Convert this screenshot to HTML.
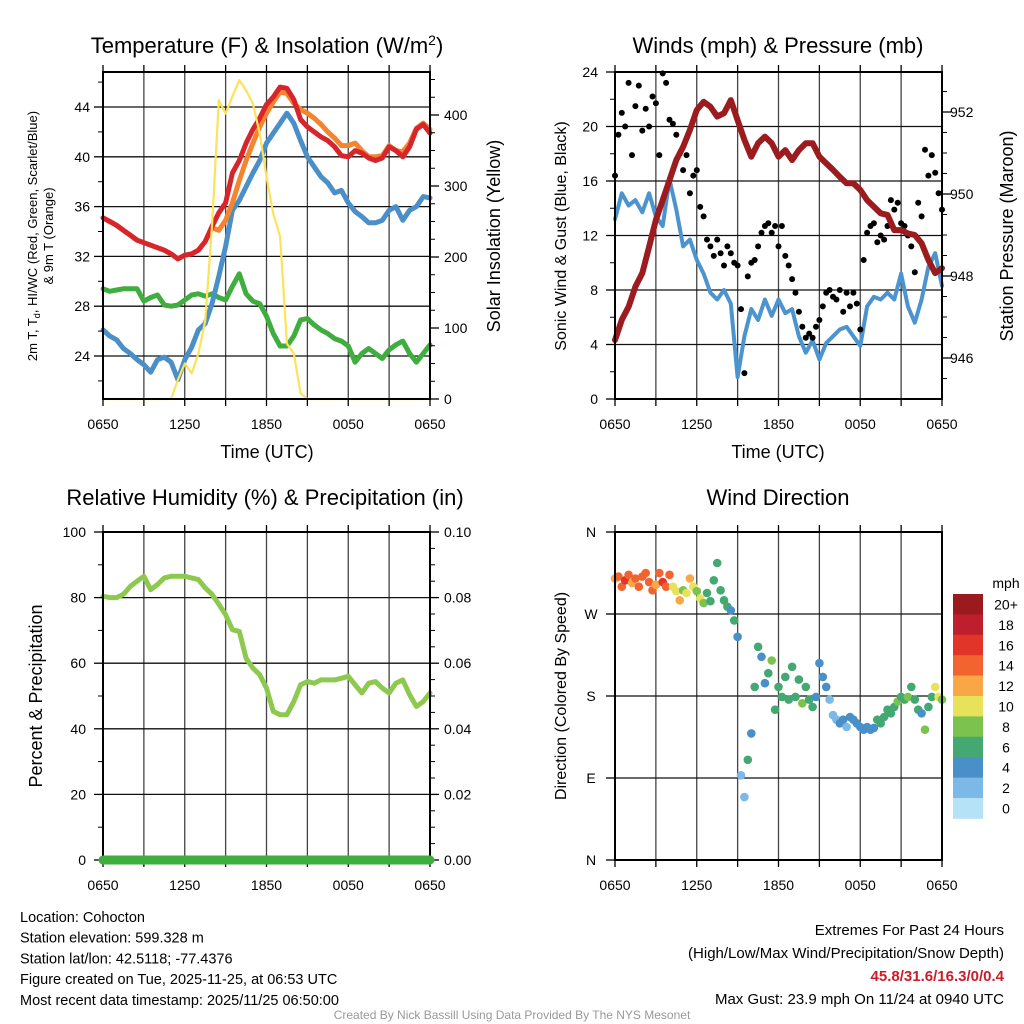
<!DOCTYPE html>
<html><head><meta charset="utf-8"><style>
html,body{margin:0;padding:0;background:#fff;}
svg{display:block;font-family:"Liberation Sans",sans-serif;}
</style></head><body>
<svg id="c" width="1024" height="1024" viewBox="0 0 1024 1024" xmlns="http://www.w3.org/2000/svg"></svg>
<script>
// ---------- DATA (half-hourly, 0650 -> 0650 UTC) ----------
const timeLabels = ["0650","1250","1850","0050","0650"];
const tempTicks = [24,28,32,36,40,44];
const solarTicks = [0,100,200,300,400];
const windTicks = [0,4,8,12,16,20,24];
const presTicks = [946,948,950,952];
const rhTicks = [0,20,40,60,80,100];
const precipTicks = ["0.00","0.02","0.04","0.06","0.08","0.10"];
const dirLabels = ["N","W","S","E","N"];
const speedBins = ["0","2","4","6","8","10","12","14","16","18","20+"];

const tempRed = [35.1,34.8,34.5,34.1,33.7,33.3,33.1,32.9,32.7,32.5,32.2,31.8,32.1,32.2,32.5,33.2,34.4,35.5,36.3,38.7,39.7,41.1,42.2,43.1,44.2,44.8,45.6,45.5,44.6,43.0,42.4,42.0,41.6,41.3,40.8,40.1,40.0,40.5,40.3,39.9,39.7,39.9,40.8,40.5,40.0,40.8,42.2,42.6,41.9];
const temp9m = [35.1,34.8,34.5,34.1,33.7,33.3,33.1,32.9,32.7,32.5,32.2,31.8,32.1,32.2,32.5,33.2,34.3,34.1,34.9,36.3,38.1,39.7,41.1,42.4,43.5,44.4,45.2,45.1,44.3,43.8,43.5,43.1,42.6,42.0,41.5,40.9,40.9,41.1,40.5,40.0,40.0,40.1,40.9,40.5,40.4,41.1,42.3,42.7,42.2];
const tempBlue = [26.1,25.6,25.3,24.6,24.2,23.7,23.3,22.7,23.7,23.9,23.5,22.1,23.7,24.7,26.1,26.6,28.2,30.4,32.8,35.7,36.5,37.6,38.7,39.7,41.1,41.9,42.7,43.5,42.7,41.3,40.0,39.2,38.4,37.9,37.1,37.3,36.3,35.6,35.2,34.7,34.7,34.9,35.7,36.0,34.9,35.7,36.0,36.8,36.7];
const tempGreen = [29.4,29.2,29.3,29.4,29.4,29.4,28.4,28.7,28.9,28.1,28.0,28.1,28.5,28.9,29.0,28.8,29.0,28.7,28.5,29.6,30.6,29.0,28.4,28.2,27.2,25.8,24.8,24.8,25.6,26.9,27.0,26.5,26.1,25.8,25.4,25.2,24.8,23.5,24.2,24.6,24.2,23.8,24.5,24.9,25.2,24.2,23.5,24.2,24.9];
const solar = [0,0,0,0,0,0,0,0,0,0,0,27,50,36,64,110,243,421,402,426,449,435,416,374,313,261,229,78,64,8,0,0,0,0,0,0,0,0,0,0,0,0,0,0,0,0,0,0,0];

const windSpeed = [13.2,15.1,14.2,14.6,13.7,15.1,13.4,12.7,16.1,13.9,11.2,11.7,10.2,9.2,7.8,7.3,8.0,7.0,1.6,4.6,6.6,5.8,7.3,6.1,7.3,6.3,6.6,4.6,3.4,4.3,2.9,4.1,4.6,5.1,5.3,4.6,3.9,6.8,7.5,7.3,7.8,7.3,9.2,6.8,5.6,7.3,9.7,10.7,8.3];
const pressure = [946.44,946.93,947.25,947.74,948.07,948.71,949.37,949.85,950.34,950.83,951.15,951.56,952.05,952.25,952.13,951.89,951.97,952.29,951.8,951.32,950.91,951.24,951.4,951.24,950.91,951.07,950.83,951.07,951.24,951.24,950.91,950.75,950.59,950.42,950.26,950.26,950.1,949.85,949.69,949.53,949.49,949.12,949.12,949.04,949.0,948.8,948.39,948.07,948.19];
// gusts, quarter-hourly
const gust = [16.4,19.4,21.0,20.0,23.2,17.9,21.5,23.0,19.7,21.3,20.0,22.2,21.7,17.9,23.9,23.2,20.5,20.2,19.4,18.0,16.8,17.9,15.1,16.4,16.8,14.1,13.4,11.7,11.2,10.5,11.7,10.7,9.8,11.2,10.7,10.0,9.8,6.6,1.9,9.0,10.0,10.2,11.2,12.2,12.7,12.9,12.2,12.7,11.2,12.7,10.5,9.8,8.8,7.8,6.4,5.3,4.5,4.8,4.5,5.3,5.8,6.8,7.8,8.0,7.5,7.3,8.0,6.4,7.8,6.8,7.8,7.0,5.1,10.2,12.2,12.7,12.9,11.5,12.0,11.7,12.7,14.6,13.9,14.4,12.9,12.7,12.0,11.2,9.3,14.4,13.4,18.3,16.4,17.9,16.6,15.1,13.9];

const rh = [80.4,80,80,81,83.4,85,86.5,82.4,84,86,86.5,86.5,86.5,86,85.5,83,81,78,74.8,70.2,69.7,61.5,58.5,56.5,52.4,45.3,44.3,44.3,48.3,53.4,54.4,53.9,54.9,54.9,54.9,55.4,56,53.4,50.9,53.9,54.4,52.4,50.9,53.9,54.9,50.4,46.8,48.3,50.9];
const precip = [0,0,0,0,0,0,0,0,0,0,0,0,0,0,0,0,0,0,0,0,0,0,0,0,0,0,0,0,0,0,0,0,0,0,0,0,0,0,0,0,0,0,0,0,0,0,0,0,0];

// wind direction (deg) and speed (mph), quarter-hourly
const windDir = [309,311,300,307,313,304,309,300,311,315,305,296,302,315,305,300,313,300,295,285,296,293,309,300,295,287,282,293,284,307,326,296,285,278,274,263,245,93,69,110,139,190,234,223,194,205,219,165,190,179,201,176,212,179,198,172,190,176,168,179,216,201,190,176,159,154,150,154,146,157,154,150,146,143,146,143,145,154,150,157,165,161,168,174,179,176,179,190,176,165,161,143,168,179,190,179,176];
const windDirSpeed = [13,14,15,16,14,13,15,14,15,14,14,15,13,14,17,15,14,10,10,12,9,10,12,11,9,10,8,7,7,6,7,6,6,6,4,7,4,3,2,6,4,6,7,4,4,7,8,6,7,6,6,6,6,6,6,8,6,6,6,4,4,4,4,3,3,3,4,4,3,4,4,4,4,4,4,4,4,6,7,6,7,6,7,8,6,7,8,7,6,7,4,8,6,7,10,10,8];

// ---------- DRAWING ----------
const NS="http://www.w3.org/2000/svg";
const svg=document.getElementById('c');
const binColors=["#b6e2f8","#7db9e6","#4990c8","#44a872","#7cc24e","#e8e25a","#f9a646","#f26330","#e03528","#bf1e2d","#9b1a1e"];
function mk(tag,attrs,parent,txt){const e=document.createElementNS(NS,tag);for(const k in attrs)e.setAttribute(k,attrs[k]);if(txt!==undefined)e.textContent=txt;(parent||svg).appendChild(e);return e;}
function txt(x,y,s,size,anchor,parent,extra){const a=Object.assign({x:x,y:y,'font-size':size,'text-anchor':anchor||'middle',fill:'#000'},extra||{});return mk('text',a,parent,s);}

function panel(name,b){
  const g=mk('g',{});
  
  
  return g;
}
function frame(g,b,hTicksY,minorY,rightMajor,rightMinor){
  // vertical grid every 3h
  for(let k=1;k<8;k++){const x=b.x0+k*(b.x1-b.x0)/8;mk('line',{x1:x,x2:x,y1:b.y0,y2:b.y1,stroke:'#444','stroke-width':1.3},g);}
  hTicksY.forEach(y=>{if(y>b.y0+1&&y<b.y1-1)mk('line',{x1:b.x0,x2:b.x1,y1:y,y2:y,stroke:'#111','stroke-width':1.3},g);});
}
function border(g,b,hTicksY,minorY,rTicksY,rMinorY){
  mk('rect',{x:b.x0,y:b.y0,width:b.x1-b.x0,height:b.y1-b.y0,fill:'none',stroke:'#000','stroke-width':2},g);
  for(let k=0;k<=8;k++){const x=b.x0+k*(b.x1-b.x0)/8;mk('line',{x1:x,x2:x,y1:b.y1,y2:b.y1+7,stroke:'#000','stroke-width':1.3},g);mk('line',{x1:x,x2:x,y1:b.y0,y2:b.y0-7,stroke:'#000','stroke-width':1.3},g);}
  hTicksY.forEach(y=>mk('line',{x1:b.x0-9,x2:b.x0,y1:y,y2:y,stroke:'#000','stroke-width':1.3},g));
  (minorY||[]).forEach(y=>mk('line',{x1:b.x0-5,x2:b.x0,y1:y,y2:y,stroke:'#000','stroke-width':1},g));
  (rTicksY||[]).forEach(y=>mk('line',{x1:b.x1,x2:b.x1+9,y1:y,y2:y,stroke:'#000','stroke-width':1.3},g));
  (rMinorY||[]).forEach(y=>mk('line',{x1:b.x1,x2:b.x1+5,y1:y,y2:y,stroke:'#000','stroke-width':1},g));
  timeLabels.forEach((s,k)=>{const t=txt(b.x0+k*(b.x1-b.x0)/4,b.y1+30,s,14,'middle',g);});
}
function xs(b,i,n){return b.x0+i/(n-1)*(b.x1-b.x0);}
function linePath(g,b,arr,yf,color,w,name){
  const d=arr.map((v,i)=>(i?'L':'M')+xs(b,i,arr.length).toFixed(1)+' '+yf(v).toFixed(1)).join(' ');
  const p=mk('path',{d:d,fill:'none',stroke:color,'stroke-width':w,'stroke-linejoin':'round','stroke-linecap':'round'},g);
  
  
  return p;
}
function range(a,b,s){const r=[];for(let v=a;v<=b+1e-9;v+=s)r.push(v);return r;}

// Panel 1
{
const b={x0:103,x1:430,y0:72,y1:399};
const g=panel('temperature-panel',b);
const yT=v=>107+(44-v)*12.45;
const yS=v=>399-v*0.71;
frame(g,b,tempTicks.map(yT));
linePath(g,b,tempGreen,yT,'#3fae3f',5,'dewpoint-line');
linePath(g,b,tempBlue,yT,'#4a8fc8',5,'windchill-line');
linePath(g,b,temp9m,yT,'#f5842f',5,'temp-9m-line');
linePath(g,b,tempRed,yT,'#d7262b',5,'temp-2m-line');
linePath(g,b,solar,yS,'#fde25a',2.2,'solar-line');
border(g,b,tempTicks.map(yT),range(22,46,4).map(yT).filter(y=>y>b.y0&&y<b.y1),solarTicks.map(yS),range(50,450,50).filter(v=>v%100).map(yS).concat(range(25,475,25).filter(v=>v%50).map(yS)).filter(y=>y>b.y0));
tempTicks.forEach(v=>txt(90,yT(v)+5,String(v),14,'end',g));
solarTicks.forEach(v=>txt(444,yS(v)+5,String(v),14,'start',g));
const t=txt(267,53,'',22,'middle',g);
t.innerHTML='Temperature (F) &amp; Insolation (W/m<tspan dy="-8" font-size="14">2</tspan><tspan dy="8">)</tspan>';
const yl=mk('text',{transform:'translate(40,236) rotate(-90)','font-size':13,'text-anchor':'middle'},g);

yl.innerHTML='<tspan x="0" dy="-3">2m T, T<tspan font-size="9" dy="3">d</tspan><tspan dy="-3">, HI/WC (Red, Green, Scarlet/Blue)</tspan></tspan><tspan x="0" dy="16">&amp; 9m T (Orange)</tspan>';
const yr=txt(0,0,'Solar Insolation (Yellow)',18,'middle',g,{transform:'translate(500,236) rotate(-90)'});
const xt=txt(267,458,'Time (UTC)',18,'middle',g);
}
// Panel 2
{
const b={x0:615,x1:942,y0:72,y1:399};
const g=panel('winds-panel',b);
const yW=v=>399-v*13.625;
const yP=v=>358-(v-946)*41;
frame(g,b,windTicks.map(yW));
linePath(g,b,windSpeed,yW,'#4b94d0',4,'sonic-wind-line');
gust.forEach((v,i)=>{const c=mk('circle',{cx:xs(b,i,gust.length).toFixed(1),cy:yW(v).toFixed(1),r:3,fill:'#000'},g);
 
 });
linePath(g,b,pressure,yP,'#9b1b1f',6,'pressure-line');
border(g,b,windTicks.map(yW),range(2,22,4).map(yW),presTicks.map(yP),range(945.5,953,0.5).filter(v=>v%2).map(yP).filter(y=>y>b.y0&&y<b.y1));
windTicks.forEach(v=>txt(598,yW(v)+5,String(v),14,'end',g));
presTicks.forEach(v=>txt(950,yP(v)+5,String(v),14,'start',g));
const t=txt(778,53,'Winds (mph) & Pressure (mb)',22,'middle',g);
const yl=txt(0,0,'Sonic Wind & Gust (Blue, Black)',16,'middle',g,{transform:'translate(566,236) rotate(-90)'});
const yr=txt(0,0,'Station Pressure (Maroon)',18,'middle',g,{transform:'translate(1013,236) rotate(-90)'});
const xt=txt(778,458,'Time (UTC)',18,'middle',g);
}
// Panel 3
{
const b={x0:103,x1:430,y0:532,y1:860};
const g=panel('humidity-panel',b);
const yR=v=>860-v*3.28;
const yPr=v=>860-v*3280;
frame(g,b,rhTicks.map(yR));
linePath(g,b,rh,yR,'#8dc94e',5,'rh-line');
border(g,b,rhTicks.map(yR),range(10,90,20).map(yR),rhTicks.map(yR),range(5,95,5).filter(v=>v%20).map(yR));
linePath(g,b,precip,yPr,'#3fae3f',9,'precip-line');
rhTicks.forEach(v=>txt(86,yR(v)+5,String(v),14,'end',g));
precipTicks.forEach((s,k)=>txt(444,yR(k*20)+5,s,14,'start',g));
const t=txt(265,505,'Relative Humidity (%) & Precipitation (in)',22,'middle',g);
const yl=txt(0,0,'Percent & Precipitation',18,'middle',g,{transform:'translate(42,696) rotate(-90)'});
}
// Panel 4
{
const b={x0:615,x1:942,y0:532,y1:860};
const g=panel('wind-direction-panel',b);
const yD=v=>860-v*(328/360);
frame(g,b,[360,270,180,90,0].map(yD));
windDir.forEach((v,i)=>{const bin=Math.min(10,Math.floor(windDirSpeed[i]/2));
 const c=mk('circle',{cx:xs(b,i,windDir.length).toFixed(1),cy:yD(v).toFixed(1),r:4.3,fill:binColors[bin]},g);
 
 });
border(g,b,[360,270,180,90,0].map(yD));
dirLabels.forEach((s,k)=>txt(591,yD(360-k*90)+5,s,14,'middle',g));
const t=txt(778,505,'Wind Direction',22,'middle',g);
const yl=txt(0,0,'Direction (Colored By Speed)',16,'middle',g,{transform:'translate(566,696) rotate(-90)'});
// colorbar
const lg=mk('g',{},g);


txt(1006,588,'mph',14,'middle',lg);
speedBins.forEach((s,k)=>{const idx=10-k;const y=594+k*20.4;
 const r=mk('rect',{x:953,y:y,width:30,height:20.8,fill:binColors[idx]},lg);
 
 
 txt(1006,y+15.5,speedBins[idx],14,'middle',lg);});
}
// Footer
{
const g=mk('g',{});


["Location: Cohocton","Station elevation: 599.328 m","Station lat/lon: 42.5118; -77.4376","Figure created on Tue, 2025-11-25, at 06:53 UTC","Most recent data timestamp: 2025/11/25 06:50:00"].forEach((s,k)=>txt(20,922+k*20.7,s,14.5,'start',g));
const g2=mk('g',{});


txt(1004,935,'Extremes For Past 24 Hours',15,'end',g2);
txt(1004,958,'(High/Low/Max Wind/Precipitation/Snow Depth)',15,'end',g2);
txt(1004,981,'45.8/31.6/16.3/0/0.4',15,'end',g2,{fill:'#c81e2a','font-weight':'bold'});
txt(1004,1004,'Max Gust: 23.9 mph On 11/24 at 0940 UTC',15,'end',g2);
const c=txt(512,1019,'Created By Nick Bassill Using Data Provided By The NYS Mesonet',12,'middle',null,{fill:'#999'});

}
</script>
</body></html>
